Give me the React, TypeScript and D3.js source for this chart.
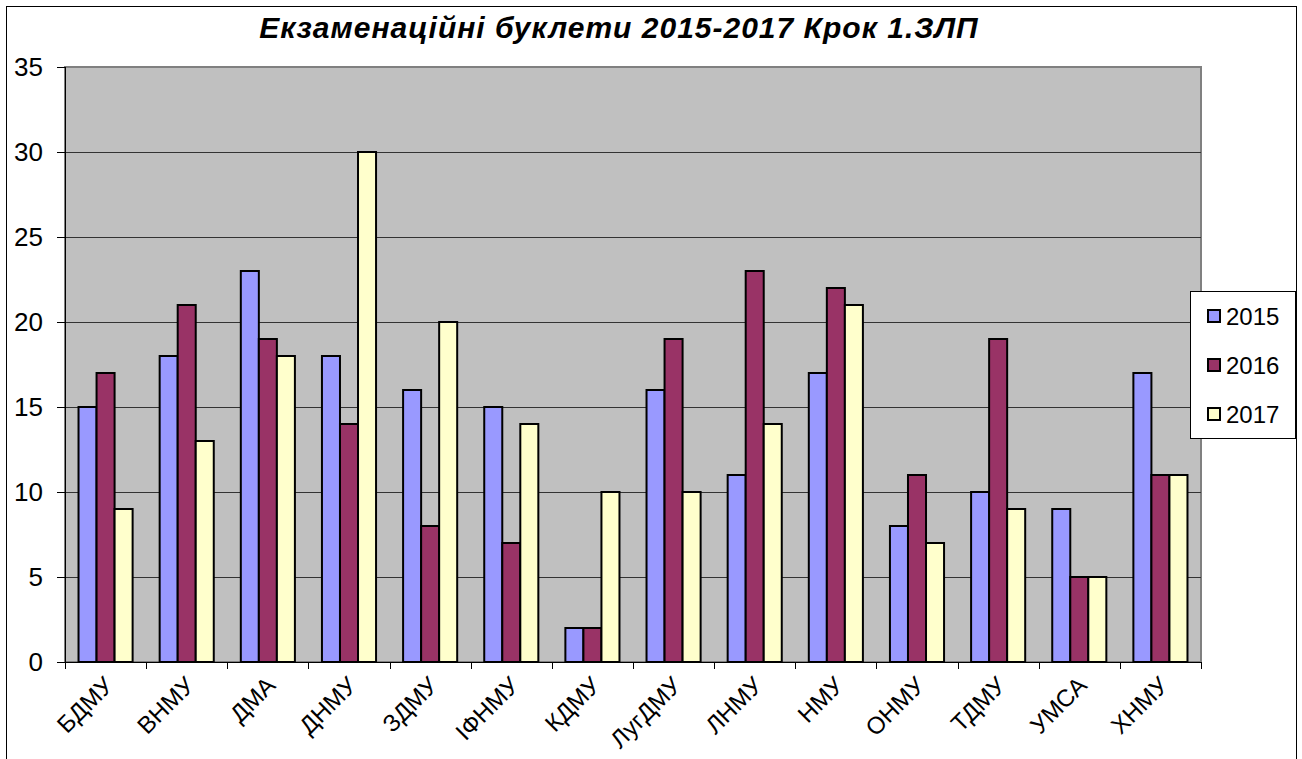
import React from "react";
import * as d3 from "d3";

const categories = ["БДМУ", "ВНМУ", "ДМА", "ДНМУ", "ЗДМУ", "ІФНМУ", "КДМУ", "ЛугДМУ", "ЛНМУ", "НМУ", "ОНМУ", "ТДМУ", "УМСА", "ХНМУ"];
const seriesNames = ["2015", "2016", "2017"];
const values2015 = [15, 18, 23, 18, 16, 15, 2, 16, 11, 17, 8, 10, 9, 17];
const values2016 = [17, 21, 19, 14, 8, 7, 2, 19, 23, 22, 11, 19, 5, 11];
const values2017 = [9, 13, 18, 30, 20, 14, 10, 10, 14, 21, 7, 9, 5, 11];
const yTicks = [0, 5, 10, 15, 20, 25, 30, 35];
const colors = ["#9999FF", "#993366", "#FFFFCC"];
const title = "Екзаменаційні буклети 2015-2017 Крок 1.ЗЛП";

export default function App() {
  const W = 1302, H = 759;
  const left = 65, right = 1201, top = 67, bottom = 662;
  const series = [values2015, values2016, values2017];
  const x = d3.scaleBand<string>().domain(categories).range([left, right]).paddingInner(0).paddingOuter(0);
  const y = d3.scaleLinear().domain([0, 35]).range([bottom, top]);
  const bw = x.bandwidth();
  const barW = bw / 4.5;
  const gap = bw - 3 * barW;
  const font = "Arial, 'Liberation Sans', sans-serif";

  return (
    <svg width={W} height={H} style={{ position: "absolute", left: 0, top: 0, background: "#fff" }} fontFamily={font}>
      <rect x={6.5} y={6.5} width={1290} height={760} fill="#fff" stroke="#000" strokeWidth={1} />
      <text x={619} y={38} textAnchor="middle" fontSize={30} fontWeight="bold" fontStyle="italic" letterSpacing={1}>{title}</text>
      <rect x={left} y={top} width={right - left} height={bottom - top} fill="#C0C0C0" stroke="#808080" strokeWidth={2} />
      {yTicks.map((t) => (
        <g key={t}>
          {t > 0 && t < 35 && <line x1={left} x2={right} y1={Math.round(y(t)) + 0.5} y2={Math.round(y(t)) + 0.5} stroke="#333" strokeWidth={1} />}
          <line x1={left - 8} x2={left} y1={Math.round(y(t)) + 0.5} y2={Math.round(y(t)) + 0.5} stroke="#000" />
          <text x={43} y={y(t) + 9} textAnchor="end" fontSize={26}>{t}</text>
        </g>
      ))}
      {categories.map((c, i) =>
        series.map((s, j) => {
          const bx = (x(c) as number) + gap / 2 + j * barW;
          return (
            <rect key={c + j} x={bx} y={y(s[i])} width={barW} height={bottom - y(s[i])} fill={colors[j]} stroke="#000" strokeWidth={2} />
          );
        })
      )}
      <line x1={left + 0.5} x2={left + 0.5} y1={top} y2={bottom} stroke="#000" />
      <line x1={left} x2={right} y1={bottom + 0.5} y2={bottom + 0.5} stroke="#000" />
      {d3.range(categories.length + 1).map((i) => {
        const tx = Math.round(left + i * bw) + 0.5;
        return <line key={i} x1={tx} x2={tx} y1={bottom} y2={bottom + 7} stroke="#000" />;
      })}
      {categories.map((c) => {
        const cx = (x(c) as number) + bw / 2 + 9;
        const cy = 687;
        return (
          <text key={c} x={cx} y={cy} textAnchor="end" fontSize={24} transform={`rotate(-45 ${cx} ${cy})`}>{c}</text>
        );
      })}
      <rect x={1190.5} y={291.5} width={105} height={147} fill="#fff" stroke="#000" strokeWidth={1} />
      {seriesNames.map((n, j) => {
        const ly = 316 + j * 49;
        return (
          <g key={n}>
            <rect x={1208} y={ly - 6} width={12} height={12} fill={colors[j]} stroke="#000" strokeWidth={2} />
            <text x={1226} y={ly + 9} fontSize={24}>{n}</text>
          </g>
        );
      })}
    </svg>
  );
}
